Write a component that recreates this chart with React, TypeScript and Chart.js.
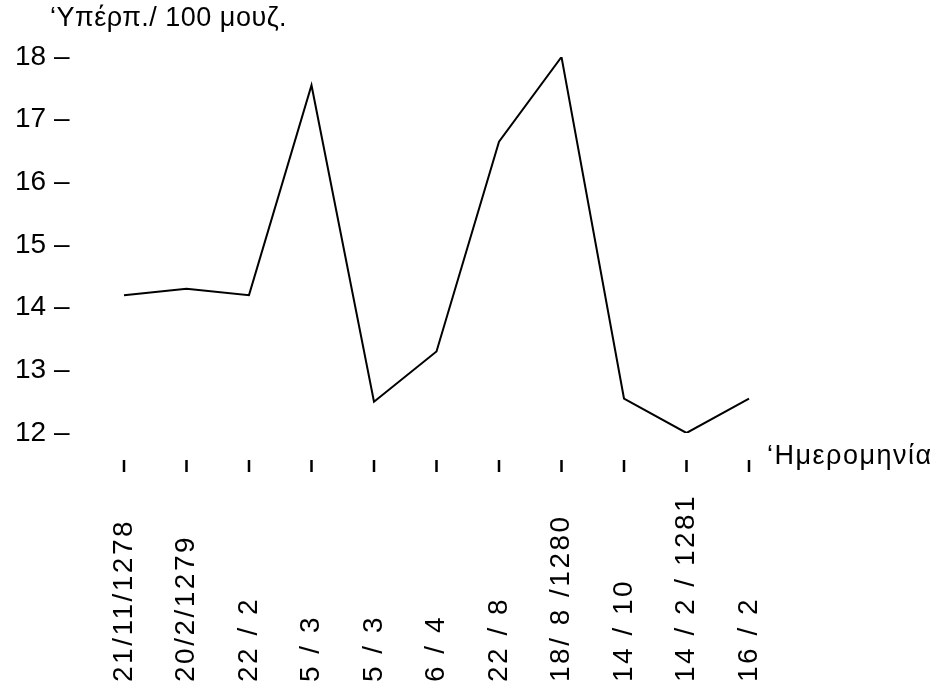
import React, { useEffect, useRef } from "react";
import { Chart, registerables } from "chart.js";

Chart.register(...registerables);

const dates = [
  "21/11/1278",
  "20/2/1279",
  "22 / 2",
  "5 / 3",
  "5 / 3",
  "6 / 4",
  "22 / 8",
  "18/ 8 /1280",
  "14 / 10",
  "14 / 2 / 1281",
  "16 / 2",
];
const values = [14.2, 14.3, 14.2, 17.55, 12.5, 13.3, 16.65, 18.0, 12.55, 12.0, 12.55];
const yTicks = [12, 13, 14, 15, 16, 17, 18];
const yTitle = "‘Υπέρπ./ 100 μουζ.";
const xTitle = "‘Ημερομηνία";

const FONT = "'Liberation Sans', Arial, sans-serif";

const textPlugin = {
  id: "customText",
  afterDraw(chart: any) {
    const ctx = chart.ctx as CanvasRenderingContext2D;
    const xs = chart.scales.x;
    const area = chart.chartArea;
    ctx.save();
    ctx.fillStyle = "#000";
    ctx.strokeStyle = "#000";
    // axis titles
    ctx.font = `27px ${FONT}`;
    ctx.textAlign = "left";
    ctx.textBaseline = "middle";
    (ctx as any).letterSpacing = "0.5px";
    ctx.fillText(yTitle, 50, 19);
    (ctx as any).letterSpacing = "1.5px";
    ctx.fillText(xTitle, area.right + 18, area.bottom + 24);
    (ctx as any).letterSpacing = "0px";
    // x tick marks and rotated labels
    ctx.lineWidth = 2.5;
    dates.forEach((d, i) => {
      const x = xs.getPixelForValue(i);
      ctx.beginPath();
      ctx.moveTo(x, area.bottom + 27);
      ctx.lineTo(x, area.bottom + 39);
      ctx.stroke();
      ctx.save();
      ctx.translate(x, area.bottom + 249);
      ctx.rotate(-Math.PI / 2);
      ctx.font = `28px ${FONT}`;
      ctx.textAlign = "left";
      ctx.textBaseline = "middle";
      (ctx as any).letterSpacing = "2.5px";
      ctx.fillText(d, 0, 0);
      ctx.restore();
    });
    ctx.restore();
  },
};

export default function App() {
  const ref = useRef<HTMLCanvasElement | null>(null);
  useEffect(() => {
    if (!ref.current) return;
    const chart = new Chart(ref.current, {
      type: "line",
      data: {
        labels: dates,
        datasets: [
          {
            data: values,
            borderColor: "#000",
            borderWidth: 2,
            pointRadius: 0,
            tension: 0,
            fill: false,
          },
        ],
      },
      options: {
        animation: false,
        responsive: true,
        maintainAspectRatio: false,
        layout: { padding: { left: 15, top: 57, right: 181, bottom: 258 } },
        plugins: { legend: { display: false }, tooltip: { enabled: false }, title: { display: false } },
        scales: {
          x: {
            type: "category",
            offset: false,
            display: false,
          },
          y: {
            min: 12,
            max: 18,
            afterFit: (s: any) => {
              s.width = 109;
            },
            afterBuildTicks: (s: any) => {
              s.ticks = yTicks.map((v) => ({ value: v }));
            },
            grid: { display: false, drawTicks: false },
            border: { display: false },
            ticks: {
              padding: 0,
              crossAlign: "far",
              color: "#000",
              font: { family: FONT, size: 28 },
              callback: (v: any) => `${v} –`,
            },
          },
        },
      },
      plugins: [textPlugin],
    });
    return () => chart.destroy();
  }, []);
  return (
    <div style={{ position: "fixed", left: 0, top: 0, width: 930, height: 691, background: "#fff" }}>
      <canvas ref={ref} />
    </div>
  );
}
